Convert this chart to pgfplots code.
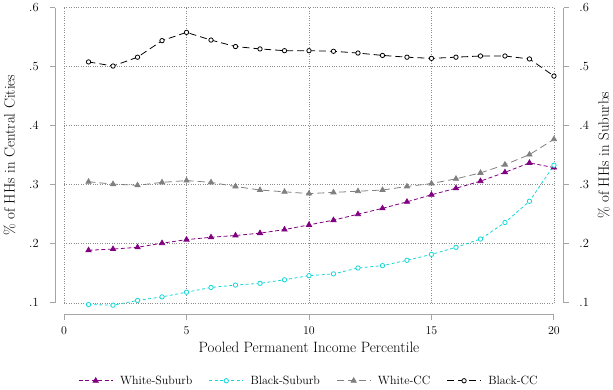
\documentclass[border=0pt]{standalone}
\usepackage{pgfplots}
\pgfplotsset{compat=1.18}

\definecolor{wsub}{RGB}{128,0,128}
\definecolor{bsub}{RGB}{20,215,215}
\definecolor{wcc}{RGB}{128,128,128}
\definecolor{axisgray}{RGB}{165,165,165}
\definecolor{gridgray}{RGB}{140,140,140}

\begin{document}
\begin{tikzpicture}
\pgfplotsset{
  common/.style={
    scale only axis, width=492pt, height=296.5pt,
    xmin=0, xmax=20, ymin=0.1, ymax=0.6,
    ytick={0.1,0.2,0.3,0.4,0.5,0.6},
    yticklabels={.1,.2,.3,.4,.5,.6},
    major tick length=0pt,
    tick style={draw=none},
    ticklabel style={font=\fontsize{12.5}{14}\selectfont},
    label style={font=\fontsize{15}{17}\selectfont},
    yticklabel shift=22pt,
    clip=false,
  },
}
\begin{axis}[common,
  axis line style={draw=none},
  xtick={0,5,10,15,20},
  xticklabel shift=21pt,
  ylabel shift=7pt,
  grid=major,
  major grid style={dotted, color=gridgray, line width=0.6pt},
  xlabel={Pooled Permanent Income Percentile},
  ylabel={\% of HHs in Central Cities},
  legend columns=4,
  legend style={at={(0.5,-0.264)}, anchor=center, draw=none,
    font=\fontsize{12}{14}\selectfont,
    nodes={inner xsep=2pt},
    /tikz/every odd column/.append style={column sep=5pt},
    /tikz/every even column/.append style={column sep=14.5pt}},
  legend image code/.code={
    \draw[mark repeat=2, mark phase=2] plot coordinates {(0pt,0pt) (17pt,0pt) (34pt,0pt)};
  },
]
% White households, suburbs
\addplot[color=wsub, line width=0.8pt, dash pattern=on 4pt off 2.5pt,
  mark=triangle*, mark size=3pt, mark options={solid, fill=wsub}]
  coordinates {(1,0.189) (2,0.191) (3,0.194) (4,0.201) (5,0.207) (6,0.211) (7,0.214)
    (8,0.218) (9,0.224) (10,0.232) (11,0.240) (12,0.250) (13,0.260) (14,0.271)
    (15,0.283) (16,0.294) (17,0.306) (18,0.321) (19,0.337) (20,0.329)};
\addlegendentry{White-Suburb}
% Black households, suburbs
\addplot[color=bsub, line width=0.8pt, dash pattern=on 3pt off 2.5pt,
  mark=*, mark size=2.2pt, mark options={solid, fill=white}]
  coordinates {(1,0.097) (2,0.096) (3,0.104) (4,0.110) (5,0.118) (6,0.126) (7,0.130)
    (8,0.133) (9,0.139) (10,0.146) (11,0.149) (12,0.159) (13,0.163) (14,0.172)
    (15,0.182) (16,0.194) (17,0.208) (18,0.236) (19,0.272) (20,0.333)};
\addlegendentry{Black-Suburb}
% White households, central cities
\addplot[color=wcc, line width=0.8pt, dash pattern=on 7pt off 4pt,
  mark=triangle*, mark size=3pt, mark options={solid, fill=wcc}]
  coordinates {(1,0.305) (2,0.301) (3,0.299) (4,0.304) (5,0.307) (6,0.304) (7,0.297)
    (8,0.291) (9,0.288) (10,0.285) (11,0.287) (12,0.289) (13,0.291) (14,0.297)
    (15,0.302) (16,0.310) (17,0.320) (18,0.334) (19,0.351) (20,0.377)};
\addlegendentry{White-CC}
% Black households, central cities
\addplot[color=black, line width=0.8pt, dash pattern=on 7pt off 4pt,
  mark=*, mark size=2.2pt, mark options={solid, fill=white}]
  coordinates {(1,0.508) (2,0.501) (3,0.516) (4,0.544) (5,0.558) (6,0.545) (7,0.534)
    (8,0.530) (9,0.527) (10,0.527) (11,0.526) (12,0.523) (13,0.519) (14,0.516)
    (15,0.514) (16,0.516) (17,0.518) (18,0.518) (19,0.513) (20,0.484)};
\addlegendentry{Black-CC}

% anchor points for the offset axis lines
\coordinate (xt0) at (axis cs:0,0.1);
\coordinate (xt1) at (axis cs:5,0.1);
\coordinate (xt2) at (axis cs:10,0.1);
\coordinate (xt3) at (axis cs:15,0.1);
\coordinate (xt4) at (axis cs:20,0.1);
\coordinate (yt1) at (axis cs:0,0.1);
\coordinate (yt2) at (axis cs:0,0.2);
\coordinate (yt3) at (axis cs:0,0.3);
\coordinate (yt4) at (axis cs:0,0.4);
\coordinate (yt5) at (axis cs:0,0.5);
\coordinate (yt6) at (axis cs:0,0.6);
\coordinate (rt1) at (axis cs:20,0.1);
\coordinate (rt6) at (axis cs:20,0.6);
\end{axis}

% right-hand scale for the suburban shares
\begin{axis}[common,
  hide x axis,
  axis y line*=right,
  y axis line style={draw=none},
  ylabel shift=2pt,
  ylabel={\% of HHs in Suburbs},
]
\end{axis}

% axis lines set off from the plot region, with outward ticks
\begin{scope}[axisgray, line width=0.9pt]
  \draw ([xshift=-9pt]yt1) -- ([xshift=-9pt]yt6);
  \foreach \i in {1,...,6} \draw ([xshift=-9pt]yt\i) -- ++(-5pt,0pt);
  \draw ([xshift=10pt]rt1) -- ([xshift=10pt]rt6);
  \foreach \i in {1,...,6} \draw ([xshift=10pt]yt\i -| rt1) -- ++(5pt,0pt);
  \draw ([yshift=-12pt]xt0) -- ([yshift=-12pt]xt4);
  \foreach \i in {0,...,4} \draw ([yshift=-12pt]xt\i) -- ++(0pt,-5pt);
\end{scope}
\end{tikzpicture}
\end{document}
